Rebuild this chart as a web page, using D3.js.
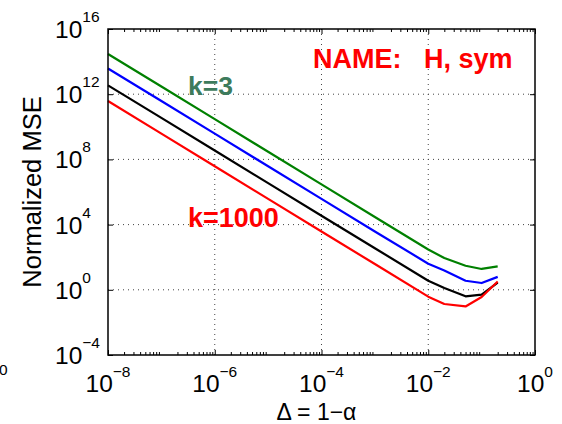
<!DOCTYPE html>
<html>
<head>
<meta charset="utf-8">
<script src="https://cdn.jsdelivr.net/npm/d3@7"></script>
<style>
  body { margin: 0; background: #fff; }
  svg { display: block; font-family: "Liberation Sans", Arial, sans-serif; }
</style>
</head>
<body>
<svg id="chart" width="562" height="424"></svg>
<script>
// delta = 1 - alpha
var deltas = [1e-8, 1e-7, 1e-6, 1e-5, 1e-4, 1e-3, 1e-2, 0.02, 0.05, 0.1, 0.2];

// normalized MSE, one array per k (k=3 ... k=1000)
var mseK3    = [2.95e14, 2.95e12, 2.95e10, 2.95e8, 2.95e6, 2.95e4, 295, 89, 30, 19, 27.5];
var mseBlue  = [3.8e13, 3.8e11, 3.8e9, 3.8e7, 3.8e5, 3.8e3, 40, 15.5, 3.6, 2.6, 6.2];
var mseBlack = [3.5e12, 3.5e10, 3.5e8, 3.5e6, 3.5e4, 355, 3.6, 1.3, 0.4, 0.5, 2.8];
var mseK1000 = [3.8e11, 3.8e9, 3.8e7, 3.8e5, 3.8e3, 38, 0.38, 0.135, 0.095, 0.36, 3.2];

var seriesColors = ["#008000", "#0000ff", "#000000", "#ff0000"];

var xTickExp = [-8, -6, -4, -2, 0];
var yTickExp = [16, 12, 8, 4, 0, -4];

var margin = {left: 108, top: 29, right: 27, bottom: 69},
    width = 562 - margin.left - margin.right,
    height = 424 - margin.top - margin.bottom;

var svg = d3.select("#chart");
var g = svg.append("g").attr("transform", "translate(" + margin.left + "," + margin.top + ")");

var x = d3.scaleLog().domain([1e-8, 1]).range([0, width]);
var y = d3.scaleLog().domain([1e-4, 1e16]).range([height, 0]);

var xTicks = xTickExp.map(function(e) { return Math.pow(10, e); });
var yTicks = yTickExp.map(function(e) { return Math.pow(10, e); });

// dotted grid
g.append("g").selectAll("line")
  .data(xTicks.slice(1, -1))
  .enter().append("line")
    .attr("x1", d => x(d)).attr("x2", d => x(d))
    .attr("y1", 0).attr("y2", height)
    .attr("stroke", "#444").attr("stroke-width", 1)
    .attr("stroke-dasharray", "1,4");
g.append("g").selectAll("line")
  .data(yTicks.slice(1, -1))
  .enter().append("line")
    .attr("x1", 0).attr("x2", width)
    .attr("y1", d => y(d)).attr("y2", d => y(d))
    .attr("stroke", "#444").attr("stroke-width", 1)
    .attr("stroke-dasharray", "1,4");

// minor ticks on x
var minor = [];
for (var e = -8; e < 0; e++) {
  for (var m = 2; m < 10; m++) minor.push(m * Math.pow(10, e));
}

function styleAxis(sel) {
  sel.select(".domain").remove();
  sel.selectAll(".tick line").attr("stroke", "#000").attr("stroke-width", 1);
  sel.selectAll(".tick text").remove();
}

g.append("g").attr("transform", "translate(0," + height + ")")
  .call(d3.axisBottom(x).tickValues(xTicks).tickSize(-5)).call(styleAxis);
g.append("g")
  .call(d3.axisTop(x).tickValues(xTicks).tickSize(-5)).call(styleAxis);
g.append("g").attr("transform", "translate(0," + height + ")")
  .call(d3.axisBottom(x).tickValues(minor).tickSize(-3)).call(styleAxis);
g.append("g")
  .call(d3.axisTop(x).tickValues(minor).tickSize(-3)).call(styleAxis);
g.append("g")
  .call(d3.axisLeft(y).tickValues(yTicks).tickSize(-5)).call(styleAxis);
g.append("g").attr("transform", "translate(" + width + ",0)")
  .call(d3.axisRight(y).tickValues(yTicks).tickSize(-5)).call(styleAxis);

// lines
var line = d3.line()
  .x(function(d) { return x(d[0]); })
  .y(function(d) { return y(d[1]); });

[mseK3, mseBlue, mseBlack, mseK1000].forEach(function(s, i) {
  g.append("path")
    .datum(deltas.map(function(dl, j) { return [dl, s[j]]; }))
    .attr("fill", "none")
    .attr("stroke", seriesColors[i])
    .attr("stroke-width", 2.2)
    .attr("stroke-linejoin", "round")
    .attr("d", line);
});

// box
g.append("rect")
  .attr("x", 0).attr("y", 0).attr("width", width).attr("height", height)
  .attr("fill", "none").attr("stroke", "#000").attr("stroke-width", 1.5);

function expText(e) { return e < 0 ? "\u2212" + (-e) : String(e); }

// x tick labels
xTickExp.forEach(function(e) {
  var t = g.append("text")
    .attr("x", x(Math.pow(10, e)))
    .attr("y", height + 37)
    .attr("text-anchor", "middle")
    .attr("font-size", 24.5)
    .attr("fill", "#000");
  t.append("tspan").text("10");
  t.append("tspan").attr("font-size", 15.5).attr("dy", -15.5).text(expText(e));
});

// y tick labels
yTickExp.forEach(function(e) {
  var t = g.append("text")
    .attr("x", -53)
    .attr("y", y(Math.pow(10, e)) + 9)
    .attr("font-size", 24.5)
    .attr("fill", "#000");
  t.append("tspan").text("10");
  t.append("tspan").attr("font-size", 15.5).attr("dy", -16).text(expText(e));
});

// axis titles
svg.append("text")
  .attr("transform", "translate(41," + (margin.top + height / 2) + ") rotate(-90)")
  .attr("text-anchor", "middle")
  .attr("font-size", 25.5)
  .attr("fill", "#000")
  .text("Normalized MSE");

svg.append("text")
  .attr("x", margin.left + width / 2 - 5)
  .attr("y", 420)
  .attr("text-anchor", "middle")
  .attr("font-size", 23)
  .attr("fill", "#000")
  .text("\u0394 = 1\u2212\u03b1");

// annotations
svg.append("text")
  .attr("x", 313).attr("y", 68)
  .attr("font-size", 27).attr("font-weight", "bold")
  .attr("fill", "#ff0000")
  .attr("xml:space", "preserve")
  .style("white-space", "pre")
  .text("NAME:   H, sym");

svg.append("text")
  .attr("x", 188).attr("y", 95)
  .attr("font-size", 26.5).attr("font-weight", "bold")
  .attr("fill", "#3d7b5c")
  .text("k=3");

svg.append("text")
  .attr("x", 188).attr("y", 227)
  .attr("font-size", 27).attr("font-weight", "bold")
  .attr("fill", "#ff0000")
  .text("k=1000");

// clipped label fragment at the left edge
svg.append("text")
  .attr("x", -1).attr("y", 375)
  .attr("font-size", 15.5)
  .attr("fill", "#000")
  .text("0");
</script>
</body>
</html>
